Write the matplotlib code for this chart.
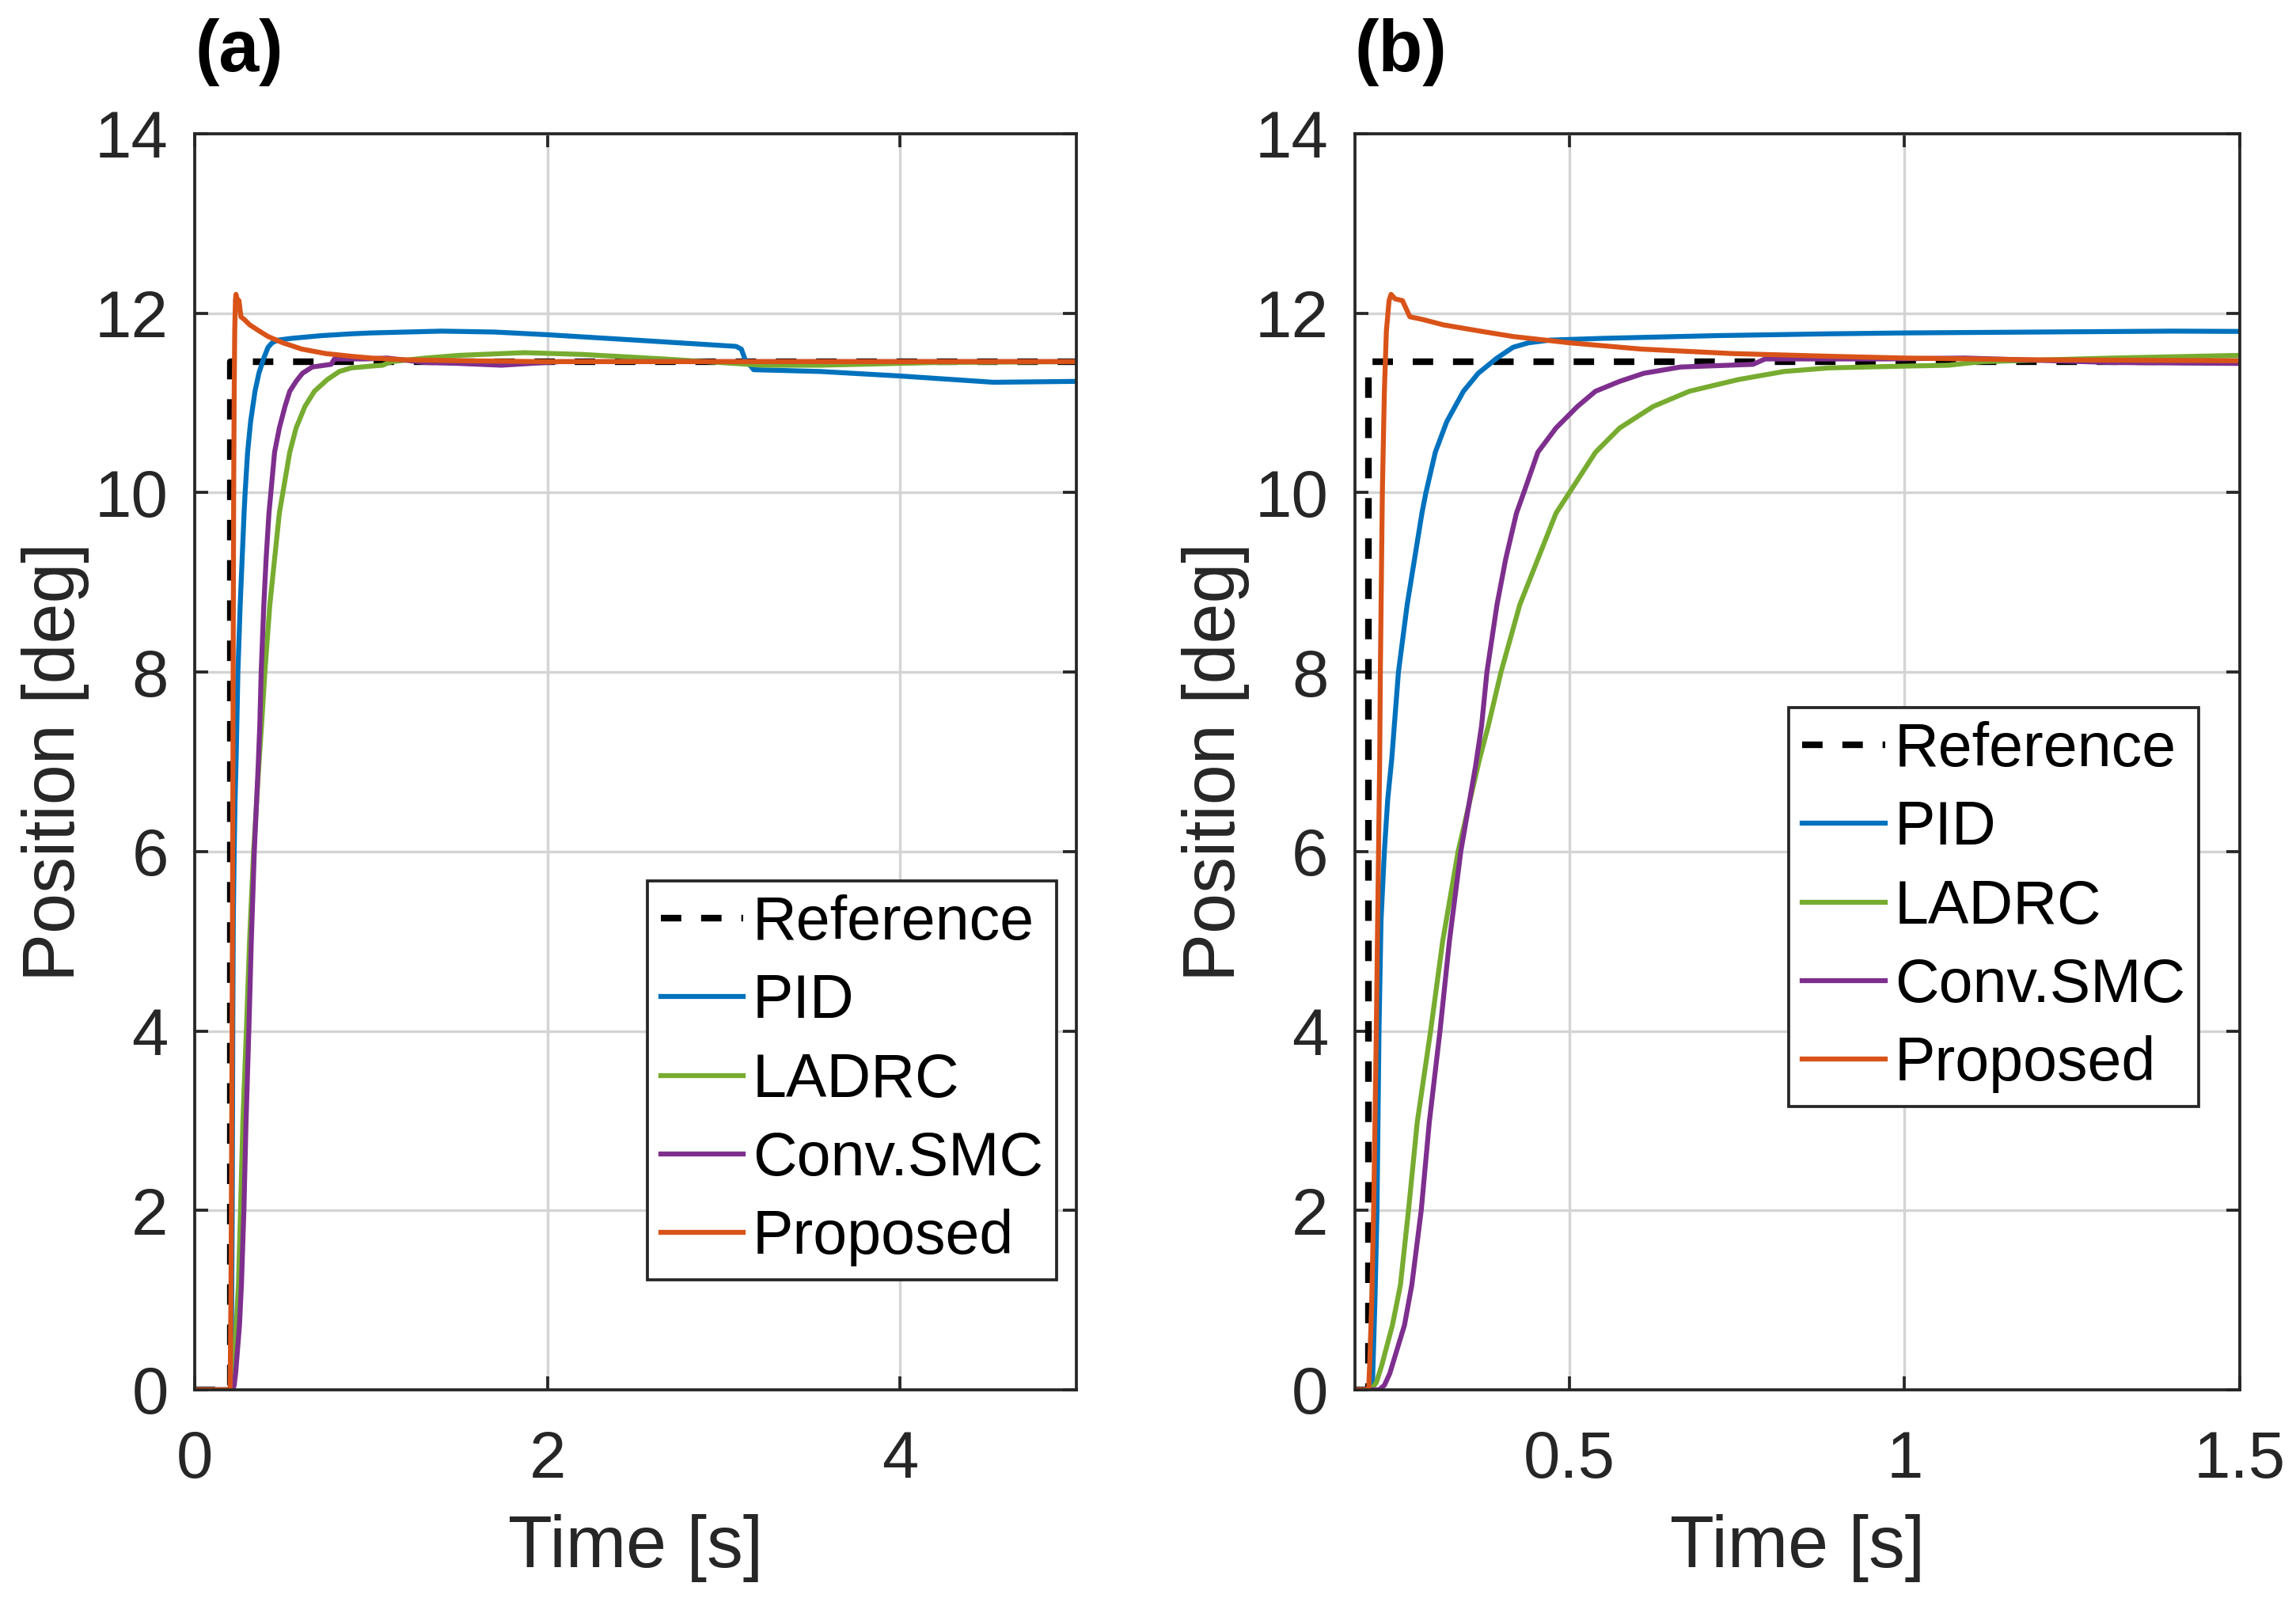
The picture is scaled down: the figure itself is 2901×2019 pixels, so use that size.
import numpy as np
import matplotlib
matplotlib.use("Agg")
import matplotlib.pyplot as plt

plt.rcParams['font.family'] = ['Liberation Sans', 'DejaVu Sans']

# reference step (deg)
t_ref = [0.0, 0.2, 0.2, 5.0]
y_ref = [0.0, 0.0, 11.46, 11.46]

# PID
t_pid = [0.0, 0.206, 0.210, 0.213, 0.216, 0.219, 0.224, 0.229, 0.235, 0.245, 0.258, 0.269,
         0.280, 0.286, 0.300, 0.317, 0.342, 0.364, 0.392, 0.416, 0.439, 0.471, 0.552, 0.72,
         0.887, 1.0, 1.2, 1.4, 1.7, 2.0, 2.5, 3.07, 3.10, 3.12, 3.17, 3.55, 4.0, 4.53, 5.0]
y_pid = [0.0, 0.0, 1.0, 2.0, 4.0, 5.23, 6.0, 6.58, 7.03, 8.0, 8.75, 9.26,
         9.77, 10.0, 10.45, 10.79, 11.13, 11.33, 11.50, 11.62, 11.67, 11.70, 11.72, 11.75,
         11.77, 11.78, 11.79, 11.80, 11.79, 11.76, 11.70, 11.63, 11.60, 11.49, 11.37, 11.35, 11.30, 11.23, 11.24]

# LADRC
t_ladrc = [0.0, 0.204, 0.212, 0.220, 0.236, 0.248, 0.260, 0.273, 0.293, 0.311, 0.334, 0.366,
           0.379, 0.398, 0.426, 0.453, 0.480, 0.50, 0.539, 0.575, 0.625, 0.679, 0.752, 0.82,
           0.887, 1.0, 1.066, 1.09, 1.118, 1.31, 1.5, 1.87, 2.2, 2.66, 3.22, 3.55, 4.2, 5.0]
y_ladrc = [0.0, 0.0, 0.08, 0.27, 0.72, 1.17, 2.0, 2.98, 4.0, 5.0, 6.0, 7.03,
           7.40, 8.0, 8.75, 9.26, 9.77, 10.0, 10.45, 10.72, 10.96, 11.13, 11.26, 11.35,
           11.39, 11.41, 11.42, 11.44, 11.46, 11.50, 11.53, 11.56, 11.54, 11.49, 11.42, 11.42, 11.45, 11.46]

# Conv.SMC
t_smc = [0.0, 0.216, 0.224, 0.232, 0.254, 0.265, 0.279, 0.291, 0.307, 0.321, 0.338, 0.360,
         0.369, 0.377, 0.392, 0.405, 0.421, 0.432, 0.453, 0.480, 0.512, 0.539, 0.575, 0.611,
         0.666, 0.774, 0.792, 0.97, 1.09, 1.31, 1.5, 1.74, 2.07, 3.0, 5.0]
y_smc = [0.0, 0.0, 0.05, 0.18, 0.72, 1.17, 2.0, 2.98, 4.0, 5.0, 6.0, 6.95,
         7.40, 8.0, 8.75, 9.26, 9.77, 10.0, 10.45, 10.72, 10.96, 11.13, 11.24, 11.33,
         11.40, 11.43, 11.49, 11.49, 11.50, 11.45, 11.44, 11.42, 11.46, 11.46, 11.46]

# Proposed
t_prop = [0.0, 0.2005, 0.202, 0.205, 0.208, 0.210, 0.212, 0.214, 0.217, 0.218, 0.221, 0.224,
          0.227, 0.231, 0.234, 0.240, 0.251, 0.262, 0.281, 0.312, 0.367, 0.416, 0.5, 0.607,
          0.743, 0.887, 1.0, 1.2, 1.5, 2.0, 5.0]
y_prop = [0.0, 0.0, 0.27, 0.95, 2.0, 2.98, 4.0, 5.23, 7.0, 8.0, 10.0, 11.13,
          11.80, 12.14, 12.21, 12.16, 12.14, 11.96, 11.93, 11.87, 11.80, 11.74, 11.67, 11.60,
          11.55, 11.52, 11.50, 11.48, 11.47, 11.46, 11.46]

c_pid = '#0072BD'
c_ladrc = '#77AC30'
c_smc = '#7E2F8E'
c_prop = '#D95319'
txt = '#262626'

fig = plt.figure(figsize=(2901 / 300, 2019 / 300), dpi=300)
ax_a = fig.add_axes([0.0848, 0.1303, 0.3840, 0.7860])
ax_b = fig.add_axes([0.5901, 0.1303, 0.3854, 0.7860])

for ax in (ax_a, ax_b):
    ax.plot(t_ref, y_ref, color='k', lw=2.0, dashes=(3.1, 3.0), label='Reference')
    ax.plot(t_pid, y_pid, color=c_pid, lw=1.5, label='PID')
    ax.plot(t_ladrc, y_ladrc, color=c_ladrc, lw=1.5, label='LADRC')
    ax.plot(t_smc, y_smc, color=c_smc, lw=1.5, label='Conv.SMC')
    ax.plot(t_prop, y_prop, color=c_prop, lw=1.5, label='Proposed')
    ax.set_ylim(0, 14)
    ax.set_yticks(np.arange(0, 15, 2))
    ax.grid(True, color='#d4d4d4', lw=0.8)
    ax.set_axisbelow(True)
    ax.tick_params(direction='in', length=4, width=0.9, top=True, right=True,
                   labelsize=20, colors=txt, pad=8)
    ax.tick_params(axis='x', pad=12)
    for s in ax.spines.values():
        s.set_linewidth(0.9)
        s.set_color(txt)
    ax.set_xlabel('Time [s]', fontsize=22, color=txt, labelpad=7)
    ax.set_ylabel('Position [deg]', fontsize=22, color=txt, labelpad=1.5)

ax_a.set_xlim(0, 5)
ax_a.set_xticks([0, 2, 4])
ax_b.set_xlim(0.18, 1.5)
ax_b.set_xticks([0.5, 1.0, 1.5])
ax_b.set_xticklabels(['0.5', '1', '1.5'])

ax_a.set_title('(a)', loc='left', fontsize=22, fontweight='bold', pad=19)
ax_b.set_title('(b)', loc='left', fontsize=22, fontweight='bold', pad=19)

leg_kw = dict(fontsize=18.5, frameon=True, fancybox=False, framealpha=1, edgecolor=txt,
              labelspacing=0.34, handlelength=1.35, handletextpad=0.16, borderpad=0.22,
              borderaxespad=0)
la = ax_a.legend(loc='upper right', bbox_to_anchor=(0.9776, 0.405), **leg_kw)
lb = ax_b.legend(loc='upper right', bbox_to_anchor=(0.9535, 0.543), **leg_kw)
for lg in (la, lb):
    lg.get_frame().set_linewidth(0.9)

fig.savefig('out.png', dpi=300)
